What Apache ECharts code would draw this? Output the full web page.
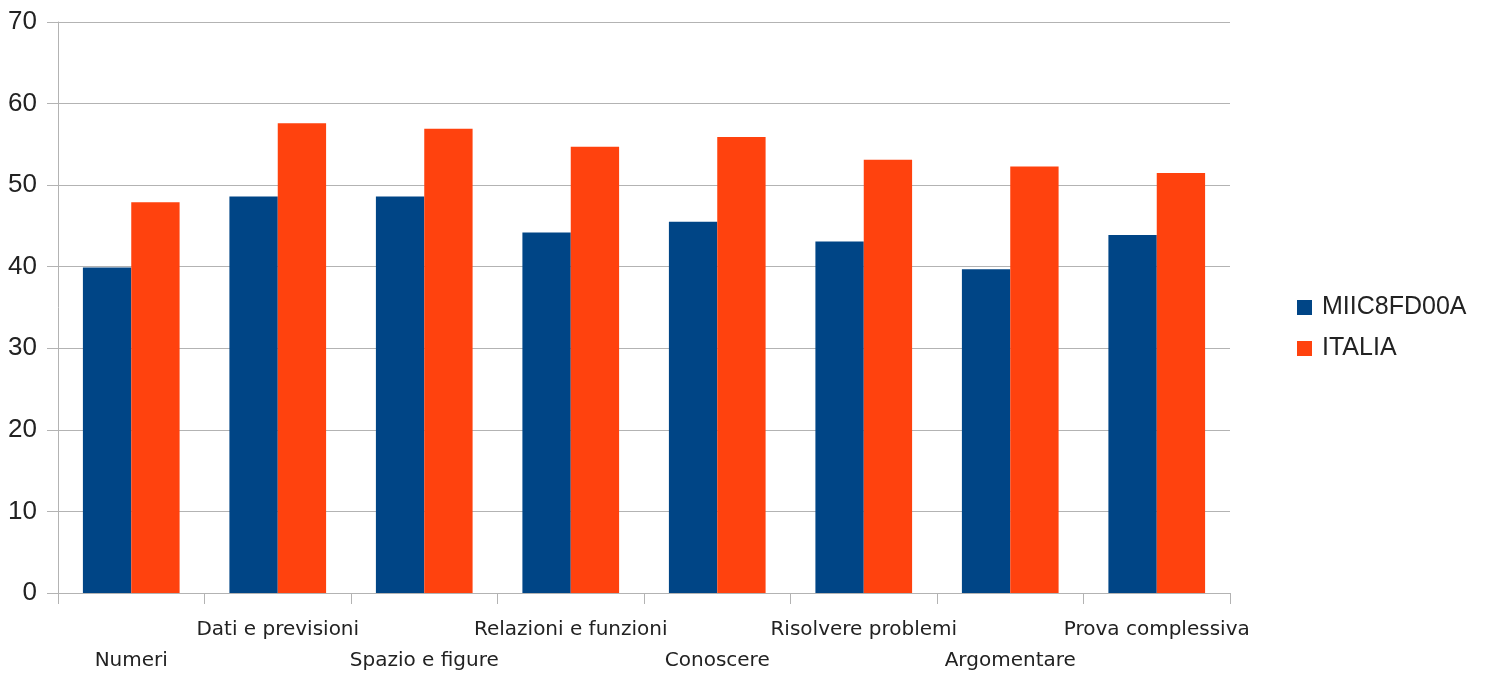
<!DOCTYPE html>
<html>
<head>
<meta charset="utf-8">
<script src="https://cdn.jsdelivr.net/npm/echarts@6/dist/echarts.min.js"></script>
<style>
html,body{margin:0;padding:0;background:#fff;}
#chart{width:1490px;height:676px;}
</style>
</head>
<body>
<div id="chart"></div>
<script>
const categories = ["Numeri","Dati e previsioni","Spazio e figure","Relazioni e funzioni","Conoscere","Risolvere problemi","Argomentare","Prova complessiva"];
const schoolName = "MIIC8FD00A";
const italyName = "ITALIA";
const schoolValues = [39.9, 48.6, 48.6, 44.2, 45.5, 43.1, 39.7, 43.9];
const italyValues = [47.9, 57.6, 56.9, 54.7, 55.9, 53.1, 52.3, 51.5];

const chart = echarts.init(document.getElementById('chart'), null, {renderer:'canvas'});
chart.setOption({
  animation: false,
  backgroundColor: '#ffffff',
  grid: {left: 58, right: 260, top: 22, bottom: 82, containLabel: false},
  legend: {
    orient: 'vertical',
    left: 1292, top: 290,
    itemWidth: 15, itemHeight: 15, itemGap: 16,
    icon: 'rect',
    textStyle: {fontFamily: 'Liberation Sans', fontSize: 25, color: '#222', padding: [0, 0, 0, 5]},
    data: [schoolName, italyName]
  },
  xAxis: {
    type: 'category',
    data: categories,
    axisLine: {lineStyle: {color: '#b3b3b3', width: 1}},
    axisTick: {show: true, length: 11, alignWithLabel: false, lineStyle: {color: '#b3b3b3'}},
    axisLabel: {
      interval: 0,
      margin: 21,
      fontFamily: 'DejaVu Sans',
      fontSize: 20,
      color: '#222',
      lineHeight: 31,
      formatter: function (v, i) { return i % 2 === 0 ? '\n' + v : v; }
    },
    splitLine: {show: false}
  },
  yAxis: {
    type: 'value',
    min: 0, max: 70, interval: 10,
    axisLine: {show: true, lineStyle: {color: '#b3b3b3', width: 1}},
    axisTick: {show: true, length: 11, lineStyle: {color: '#b3b3b3'}},
    axisLabel: {fontFamily: 'Liberation Sans', fontSize: 26, color: '#222', margin: 21},
    splitLine: {show: true, lineStyle: {color: '#b3b3b3', width: 1}}
  },
  series: [
    {name: schoolName, type: 'bar', data: schoolValues, barGap: '0%', barCategoryGap: '34%', itemStyle: {color: '#004586'}},
    {name: italyName, type: 'bar', data: italyValues, barGap: '0%', barCategoryGap: '34%', itemStyle: {color: '#ff420e'}}
  ]
});
</script>
</body>
</html>
